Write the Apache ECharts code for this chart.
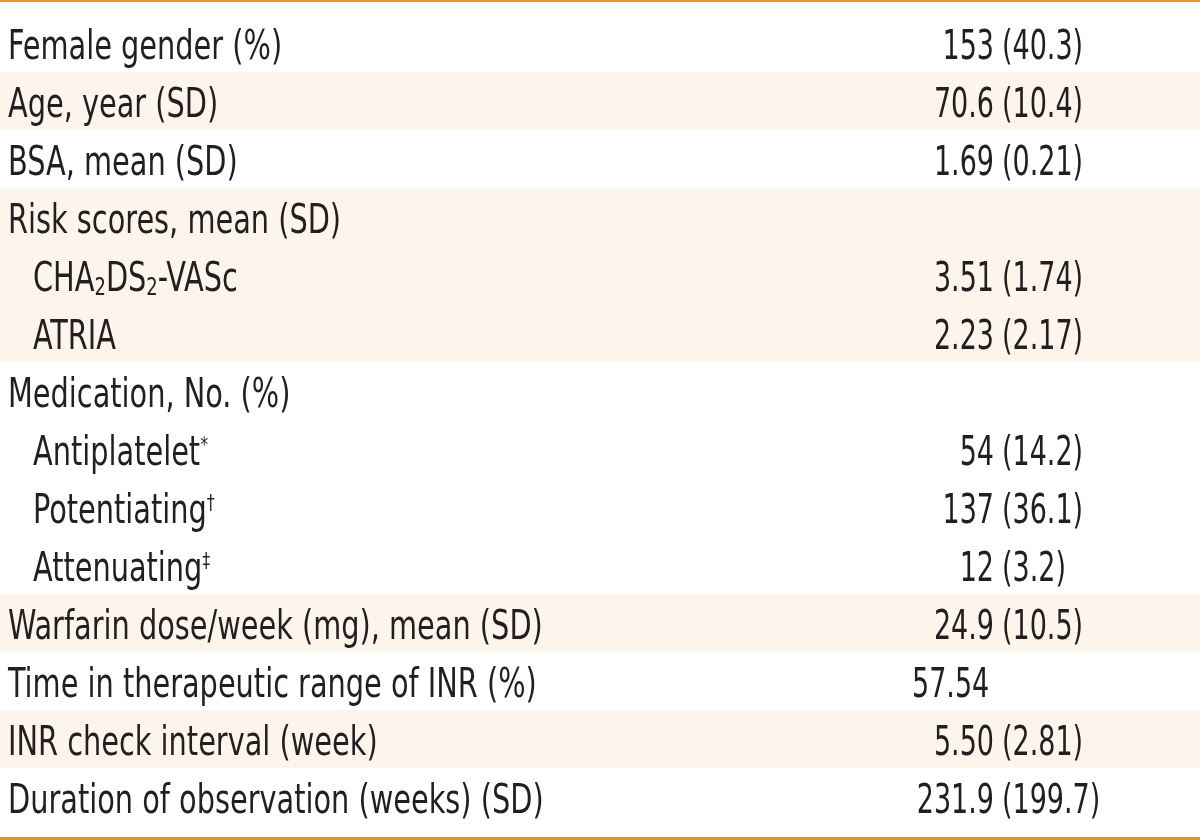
<!DOCTYPE html>
<html>
<head>
<meta charset="utf-8">
<style>
html,body{margin:0;padding:0;background:#fff;}
#chart{width:1200px;height:840px;}
</style>
<script src="https://cdn.jsdelivr.net/npm/echarts@6/dist/echarts.min.js"></script>
</head>
<body>
<div id="chart"></div>
<script>
// ---- data ----
var labels = [
  'Female gender (%)',
  'Age, year (SD)',
  'BSA, mean (SD)',
  'Risk scores, mean (SD)',
  'CHA{sub|2}DS{sub|2}-VASc',
  'ATRIA',
  'Medication, No. (%)',
  'Antiplatelet{sup|*}',
  'Potentiating{sup|†}',
  'Attenuating{sup|‡}',
  'Warfarin dose/week (mg), mean (SD)',
  'Time in therapeutic range of INR (%)',
  'INR check interval (week)',
  'Duration of observation (weeks) (SD)'
];
var values = [
  '153 (40.3)',
  '70.6 (10.4)',
  '1.69 (0.21)',
  '',
  '3.51 (1.74)',
  '2.23 (2.17)',
  '',
  '54 (14.2)',
  '137 (36.1)',
  '12 (3.2)',
  '24.9 (10.5)',
  '57.54',
  '5.50 (2.81)',
  '231.9 (199.7)'
];
var indent = [0,0,0,0,1,1,0,1,1,1,0,0,0,0];
var groups = [0,1,2,3,3,3,4,4,4,4,5,6,7,8];

// ---- chart ----
var FONT = '"DejaVu Sans Condensed","Liberation Sans Narrow","Liberation Sans",sans-serif';
var FS = 40;
var TEXT = '#231f20';
var BEIGE = '#fdf5ec';
var ORANGE = '#ec8f2c';
var LABEL_SX = 0.8;
var VALUE_SX = 0.75;
var DY = 6;

var rowIdx = labels.map(function(_, i){ return i; });
var chart = echarts.init(document.getElementById('chart'), null, {renderer:'canvas'});

var rich = {
  sub: {fontSize: 25, fontFamily: FONT, fill: TEXT, color: TEXT, verticalAlign: 'bottom'},
  sup: {fontSize: 22, fontFamily: FONT, fill: TEXT, color: TEXT, verticalAlign: 'top'}
};

chart.setOption({
  animation: false,
  grid: {left: 0, right: 0, top: 14, bottom: 14},
  xAxis: {type: 'value', min: 0, max: 1200, show: false},
  yAxis: {type: 'category', data: rowIdx, inverse: true, show: false},
  series: [
    {
      type: 'custom',
      data: rowIdx.map(function(i){ return [0, i, groups[i]]; }),
      renderItem: function(params, api){
        var c = api.coord([0, api.value(1)]);
        var h = api.size([0, 1])[1];
        var w = api.size([1200, 0])[0];
        if (api.value(2) % 2 === 0) return null;
        return {type:'rect', shape:{x: c[0], y: c[1]-h/2, width: w, height: h}, style:{fill: BEIGE}};
      },
      z: 1
    },
    {
      type: 'custom',
      data: rowIdx.map(function(i){ return [indent[i] ? 33 : 8, i]; }),
      renderItem: function(params, api){
        var c = api.coord([api.value(0), api.value(1)]);
        return {
          type: 'text',
          x: c[0], y: c[1] + DY, scaleX: LABEL_SX,
          style: {
            text: labels[params.dataIndex],
            fill: TEXT,
            font: FS + 'px ' + FONT,
            align: 'left',
            verticalAlign: 'middle',
            rich: rich
          }
        };
      },
      z: 3
    },
    {
      type: 'custom',
      data: rowIdx.map(function(i){ return [994, i]; }),
      renderItem: function(params, api){
        var s = values[params.dataIndex];
        if (!s) return null;
        var c = api.coord([api.value(0), api.value(1)]);
        var p = s.indexOf(' (');
        var children = [];
        var st = function(t, a){ return {text: t, fill: TEXT, font: FS + 'px ' + FONT, align: a, verticalAlign: 'middle'}; };
        if (p < 0) {
          children.push({type:'text', x: 912, y: c[1] + DY, scaleX: VALUE_SX, style: st(s, 'left')});
        } else {
          children.push({type:'text', x: c[0], y: c[1] + DY, scaleX: VALUE_SX, style: st(s.slice(0, p), 'right')});
          children.push({type:'text', x: c[0] + 8, y: c[1] + DY, scaleX: VALUE_SX, style: st(s.slice(p + 1), 'left')});
        }
        return {type:'group', children: children};
      },
      z: 3
    }
  ],
  graphic: [
    {type:'rect', left: 0, top: 0, shape:{width:1200, height:2}, style:{fill: ORANGE}, z: 10},
    {type:'rect', left: 0, top: 837, shape:{width:1200, height:3}, style:{fill: ORANGE}, z: 10}
  ]
});
</script>
</body>
</html>
